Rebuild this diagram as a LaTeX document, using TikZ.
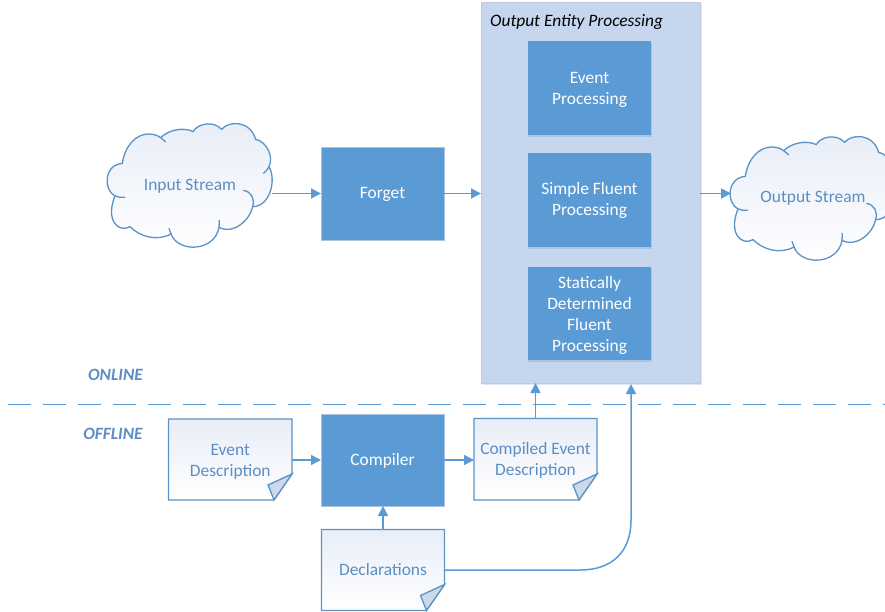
\documentclass[tikz,border=0pt]{standalone}
\usepackage{fontspec}
\setmainfont{Carlito}
\usetikzlibrary{arrows.meta}
\definecolor{mblue}{HTML}{5B9BD5}
\definecolor{lineblue}{HTML}{5A93C8}
\definecolor{txtblue}{HTML}{5B8EC4}
\definecolor{panelblue}{HTML}{C5D6EE}
\definecolor{paneledge}{HTML}{BFCBDC}
\definecolor{shadowblue}{HTML}{DCE7F5}
\definecolor{boxedge}{HTML}{A9C3E0}
\definecolor{gradtop}{HTML}{E8EDF7}
\definecolor{foldblue}{HTML}{CDD8E8}
\newcommand{\lift}[1]{\rule{0pt}{#1pt}}
\tikzset{
  lowtext/.style={execute at begin node={\rule{0pt}{16pt}}, execute at end node={\rule[-5.2pt]{0pt}{1pt}}},
  lbl/.style={font=\fontsize{17.4}{21}\selectfont, align=center, inner sep=0pt, outer sep=0pt, text=txtblue},
  bluebox/.style={draw=boxedge, line width=0.8pt, fill=mblue, minimum width=123pt, minimum height=93pt, inner sep=0pt, outer sep=0pt,
     font=\fontsize{17.4}{21}\selectfont, align=center, text=white},
  panelbox/.style={draw=paneledge, line width=1pt, fill=panelblue, inner sep=0pt, outer sep=0pt},
  conn/.style={draw=mblue, line width=1.5pt, -{Triangle[length=10pt,width=10pt]}},
  outl/.style={draw=lineblue, line width=1.3pt},
  grad/.style={top color=gradtop, bottom color=white},
  side/.style={font=\fontsize{17.3}{19}\selectfont\bfseries\itshape, text=txtblue, inner sep=0pt},
}
\newcommand{\cloudat}[2]{%
 \begin{scope}[shift={(#1,#2)},x=0.33333pt,y=-0.33333pt]
  \path[outl,grad] (97,160) .. controls (105,105) and (140,72) .. (175,72)
    .. controls (190,72) and (203,76) .. (212,83)
    .. controls (235,60) and (280,50) .. (310,65)
    .. controls (320,42) and (370,30) .. (395,58)
    .. controls (415,32) and (480,30) .. (497,88)
    .. controls (530,95) and (552,140) .. (537,170)
    .. controls (560,210) and (540,290) .. (488,290)
    .. controls (480,330) and (430,375) .. (387,352)
    .. controls (375,425) and (265,430) .. (243,372)
    .. controls (200,395) and (150,380) .. (120,350)
    .. controls (85,370) and (45,330) .. (75,258)
    .. controls (40,240) and (40,165) .. (97,160) -- cycle;
  \path[outl] (212,83) .. controls (217,87) and (222,91) .. (227,96);
  \path[outl] (537,170) .. controls (533,178) and (527,186) .. (520,190);
  \path[outl] (460,241) .. controls (485,245) and (495,268) .. (488,290);
  \path[outl] (387,352) -- (388,330);
  \path[outl] (243,372) -- (237,355);
  \path[outl] (75,258) .. controls (84,262) and (95,263) .. (105,262);
 \end{scope}}
\newcommand{\docat}[4]{% x y w h
 \begin{scope}[shift={(#1,#2)}]
  \path[outl,grad] (0,0) -- (#3,0) -- (#3,#4-26) -- (#3-18,#4) -- (0,#4) -- cycle;
  \path[outl,fill=foldblue] (#3,#4-26) -- (#3-24,#4-15) -- (#3-18,#4) -- cycle;
 \end{scope}}
\begin{document}
\begin{tikzpicture}[x=1pt,y=-1pt]
\clip (0,0) rectangle (885,612);
\fill[white] (0,0) rectangle (885,612);

% panel
\fill[shadowblue] (483,5) rectangle (702,385);
\node[panelbox, minimum width=219pt, minimum height=380pt] (panel) at (590.5,193) {};
\node[anchor=west, inner sep=0pt, font=\fontsize{17.4}{19}\selectfont\itshape, text=black] (paneltitle) at (490,22) {Output Entity Processing};

% inner boxes
\fill[boxedge] (528,43) rectangle (652,137);
\node[bluebox, draw=none, minimum height=94pt] (ep) at (589.5,88) {\lift{15}Event\\Processing};
\fill[boxedge] (528,155) rectangle (652,249);
\node[bluebox, draw=none, minimum height=94pt] (sfp) at (589.5,200) {Simple Fluent\\Processing};
\fill[boxedge] (528,269) rectangle (652,362);
\node[bluebox, draw=none, minimum height=93pt] (sdfp) at (589.5,313.5) {\lift{15}Statically\\Determined\\Fluent\\Processing};

% clouds
\cloudat{90}{110}
\node[lbl, lowtext, minimum width=164pt, minimum height=125pt] (input) at (190,185) {Input Stream};
\cloudat{713}{123}
\node[lbl, lowtext, minimum width=164pt, minimum height=125pt] (output) at (813,197) {Output Stream};

% process boxes
\node[bluebox, lowtext] (forget) at (382.5,193.5) {Forget};
\node[bluebox, lowtext, minimum height=92pt] (compiler) at (382.5,460) {Compiler};

% documents
\docat{168.5}{419}{123.5}{81}
\node[lbl, minimum width=123.5pt, minimum height=81pt] (evdesc) at (230.25,460.5) {\lift{14}Event\\Description};
\docat{474}{418.5}{123}{81.5}
\node[lbl, minimum width=123pt, minimum height=81.5pt] (compdesc) at (535.5,459.25) {\lift{15}Compiled Event\\Description};
\docat{321.5}{529.5}{123}{81}
\node[lbl, lowtext, minimum width=123pt, minimum height=81pt] (decl) at (383,570) {Declarations};

% separator
\coordinate (sepL) at (8.3,404.5);
\coordinate (sepR) at (885,404.5);
\draw[draw=mblue, line width=1.4pt, dash pattern=on 23pt off 12pt] (sepL) -- (sepR);
\node[side] (online) at (115.5,374.5) {ONLINE};
\node[side] (offline) at (113,433.5) {OFFLINE};

% connectors
\draw[conn] (input.east |- forget.west) -- (forget.west);
\draw[conn] (forget.east) -- (forget.east -| panel.west);
\draw[conn] (panel.east |- forget.east) -- (output.west |- forget.east);
\draw[conn] (compiler.west -| evdesc.east) -- (compiler.west);
\draw[conn] (compiler.east) -- (compiler.east -| compdesc.west);
\draw[conn] (decl.north) -- (decl.north |- compiler.south);
\draw[conn] (compdesc.north) -- (compdesc.north |- panel.south);
\coordinate (curveTop) at (631,384);
\draw[conn] (decl.east) -- (580,570) .. controls (612,570) and (631,552) .. (631,520) -- (curveTop);
\end{tikzpicture}
\end{document}
